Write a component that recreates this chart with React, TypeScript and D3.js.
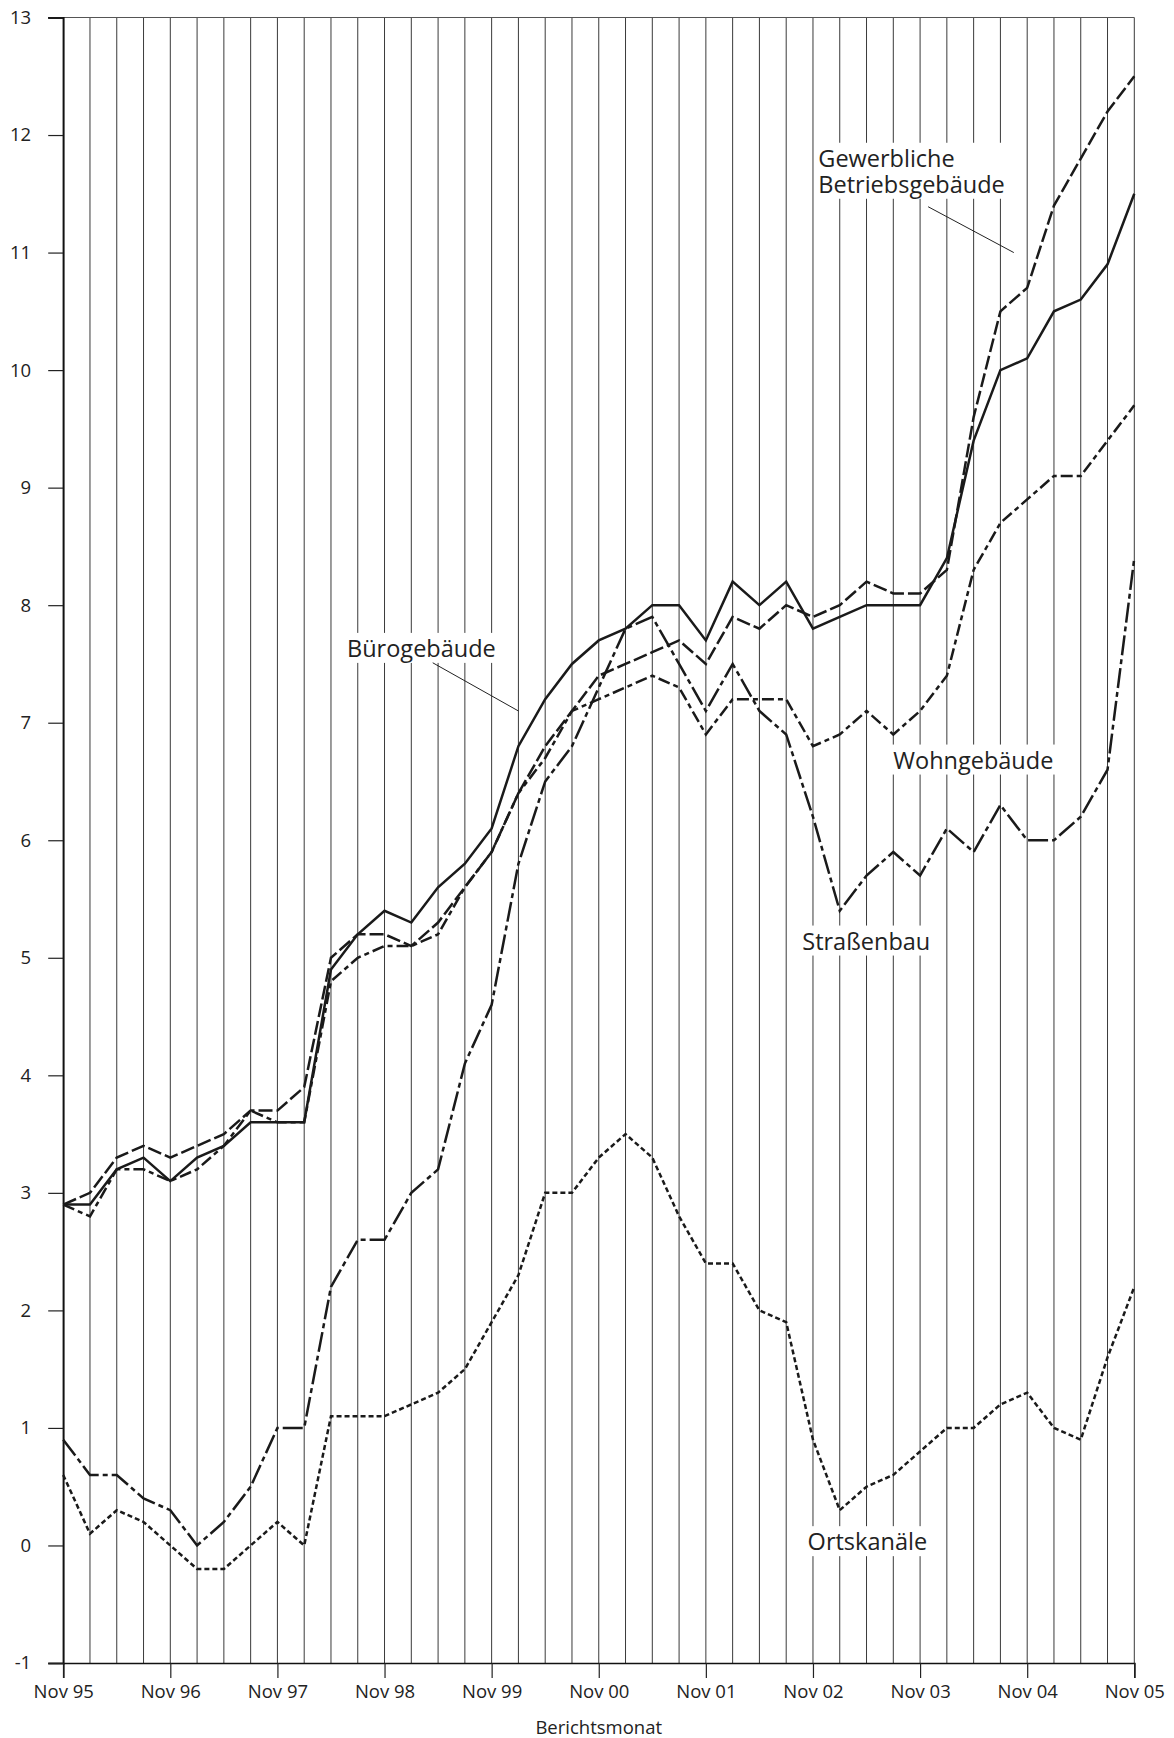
import React, { useRef, useEffect } from "react";
import * as d3 from "d3";

// Quartale Nov 95 .. Nov 05
const quarters = [
  "Nov 95", "Feb 96", "Mai 96", "Aug 96",
  "Nov 96", "Feb 97", "Mai 97", "Aug 97",
  "Nov 97", "Feb 98", "Mai 98", "Aug 98",
  "Nov 98", "Feb 99", "Mai 99", "Aug 99",
  "Nov 99", "Feb 00", "Mai 00", "Aug 00",
  "Nov 00", "Feb 01", "Mai 01", "Aug 01",
  "Nov 01", "Feb 02", "Mai 02", "Aug 02",
  "Nov 02", "Feb 03", "Mai 03", "Aug 03",
  "Nov 03", "Feb 04", "Mai 04", "Aug 04",
  "Nov 04", "Feb 05", "Mai 05", "Aug 05",
  "Nov 05",
];
const xTickLabels = ["Nov 95", "Nov 96", "Nov 97", "Nov 98", "Nov 99", "Nov 00", "Nov 01", "Nov 02", "Nov 03", "Nov 04", "Nov 05"];
const yTicks = [-1, 0, 1, 2, 3, 4, 5, 6, 7, 8, 9, 10, 11, 12, 13];

const buero = [2.9, 2.9, 3.2, 3.3, 3.1, 3.3, 3.4, 3.6, 3.6, 3.6, 4.9, 5.2, 5.4, 5.3, 5.6, 5.8, 6.1, 6.8, 7.2, 7.5, 7.7, 7.8, 8.0, 8.0, 7.7, 8.2, 8.0, 8.2, 7.8, 7.9, 8.0, 8.0, 8.0, 8.4, 9.4, 10.0, 10.1, 10.5, 10.6, 10.9, 11.5];
const gewerbe = [2.9, 3.0, 3.3, 3.4, 3.3, 3.4, 3.5, 3.7, 3.7, 3.9, 5.0, 5.2, 5.2, 5.1, 5.3, 5.6, 5.9, 6.4, 6.8, 7.1, 7.4, 7.5, 7.6, 7.7, 7.5, 7.9, 7.8, 8.0, 7.9, 8.0, 8.2, 8.1, 8.1, 8.3, 9.6, 10.5, 10.7, 11.4, 11.8, 12.2, 12.5];
const wohn = [2.9, 2.8, 3.2, 3.2, 3.1, 3.2, 3.4, 3.7, 3.6, 3.6, 4.8, 5.0, 5.1, 5.1, 5.2, 5.6, 5.9, 6.4, 6.7, 7.1, 7.2, 7.3, 7.4, 7.3, 6.9, 7.2, 7.2, 7.2, 6.8, 6.9, 7.1, 6.9, 7.1, 7.4, 8.3, 8.7, 8.9, 9.1, 9.1, 9.4, 9.7];
const strasse = [0.9, 0.6, 0.6, 0.4, 0.3, 0.0, 0.2, 0.5, 1.0, 1.0, 2.2, 2.6, 2.6, 3.0, 3.2, 4.1, 4.6, 5.8, 6.5, 6.8, 7.3, 7.8, 7.9, 7.5, 7.1, 7.5, 7.1, 6.9, 6.2, 5.4, 5.7, 5.9, 5.7, 6.1, 5.9, 6.3, 6.0, 6.0, 6.2, 6.6, 8.4];
const kanal = [0.6, 0.1, 0.3, 0.2, 0.0, -0.2, -0.2, 0.0, 0.2, 0.0, 1.1, 1.1, 1.1, 1.2, 1.3, 1.5, 1.9, 2.3, 3.0, 3.0, 3.3, 3.5, 3.3, 2.8, 2.4, 2.4, 2.0, 1.9, 0.9, 0.3, 0.5, 0.6, 0.8, 1.0, 1.0, 1.2, 1.3, 1.0, 0.9, 1.6, 2.2];

const seriesList = [
  { name: "Ortskanäle", values: kanal, dash: "5 3" },
  { name: "Straßenbau", values: strasse, dash: "20 4 5 4" },
  { name: "Wohngebäude", values: wohn, dash: "12 4 5 4" },
  { name: "Gewerbliche Betriebsgebäude", values: gewerbe, dash: "14 4" },
  { name: "Bürogebäude", values: buero, dash: null },
];

// Beschriftungen im Diagramm (Quartalsindex, Wert)
const annotations = [
  { lines: ["Gewerbliche", "Betriebsgebäude"], at: [28.2, 11.73], leader: [[32.3, 11.39], [35.5, 11.0]] },
  { lines: ["Bürogebäude"], at: [10.6, 7.56], leader: [[13.8, 7.51], [17.0, 7.1]] },
  { lines: ["Wohngebäude"], at: [31.0, 6.61], leader: null },
  { lines: ["Straßenbau"], at: [27.6, 5.07], leader: null },
  { lines: ["Ortskanäle"], at: [27.8, -0.04], leader: null },
];

const width = 1174;
const height = 1738;
const font = "'Open Sans', 'Noto Sans', sans-serif";

const Chart = () => {
  const svgRef = useRef(null);

  useEffect(() => {
    const svg = d3.select(svgRef.current);
    svg.selectAll("*").remove();

    const x = d3.scaleLinear().domain([0, quarters.length - 1]).range([63.2, 1134.3]);
    const y = d3.scaleLinear().domain([-1, 13]).range([1663, 17.5]);

    // vertical grid, one line per quarter
    svg.append("g")
      .selectAll("line")
      .data(quarters)
      .enter()
      .append("line")
      .attr("x1", (d, i) => x(i))
      .attr("x2", (d, i) => x(i))
      .attr("y1", y(-1))
      .attr("y2", y(13))
      .attr("stroke", "#3a3a3a")
      .attr("stroke-width", 1);

    // top border
    svg.append("line")
      .attr("x1", 48).attr("x2", x(40))
      .attr("y1", y(13)).attr("y2", y(13))
      .attr("stroke", "#555").attr("stroke-width", 1.2);

    // y axis
    const yAxis = svg.append("g")
      .attr("transform", `translate(${x(0)},0)`)
      .call(d3.axisLeft(y).tickValues(yTicks).tickSize(15).tickPadding(17).tickFormat(d => String(d)));
    yAxis.select(".domain").attr("stroke", "#111").attr("stroke-width", 1.8);
    yAxis.selectAll(".tick line").attr("stroke", "#222").attr("stroke-width", 1.2);
    yAxis.selectAll("text")
      .attr("font-family", font).attr("font-size", 18.5).attr("fill", "#222");

    // x axis
    const xAxis = svg.append("g")
      .attr("transform", `translate(0,${y(-1)})`)
      .call(d3.axisBottom(x)
        .tickValues(xTickLabels.map(l => quarters.indexOf(l)))
        .tickSize(15).tickPadding(7)
        .tickFormat(i => quarters[i]));
    xAxis.select(".domain").attr("stroke", "#111").attr("stroke-width", 1.6);
    xAxis.selectAll(".tick line").attr("stroke", "#222").attr("stroke-width", 1.2);
    xAxis.selectAll("text")
      .attr("font-family", font).attr("font-size", 18.5).attr("fill", "#222");

    svg.append("text")
      .attr("x", (x(0) + x(40)) / 2)
      .attr("y", 1734)
      .attr("text-anchor", "middle")
      .attr("font-family", font).attr("font-size", 18.5).attr("fill", "#222")
      .text("Berichtsmonat");

    // labels with white background
    const ann = svg.append("g");
    annotations.forEach(a => {
      const g = ann.append("g");
      const bg = g.append("rect").attr("fill", "white");
      const t = g.append("text")
        .attr("font-family", font).attr("font-size", 23.5).attr("fill", "#222");
      a.lines.forEach((l, k) => {
        t.append("tspan")
          .attr("x", x(a.at[0]))
          .attr("y", y(a.at[1]) + k * 26)
          .text(l);
      });
      const b = t.node().getBBox();
      bg.attr("x", b.x - 3).attr("y", b.y + 1).attr("width", b.width + 6).attr("height", b.height - 2);
      if (a.leader) {
        g.append("line")
          .attr("x1", x(a.leader[0][0])).attr("y1", y(a.leader[0][1]))
          .attr("x2", x(a.leader[1][0])).attr("y2", y(a.leader[1][1]))
          .attr("stroke", "#222").attr("stroke-width", 1);
      }
    });

    // data lines
    const line = d3.line()
      .x((d, i) => x(i))
      .y(d => y(d));

    svg.append("g")
      .selectAll("path")
      .data(seriesList)
      .enter()
      .append("path")
      .attr("d", d => line(d.values))
      .attr("fill", "none")
      .attr("stroke", "#1a1a1a")
      .attr("stroke-width", 2.5)
      .attr("stroke-linejoin", "miter")
      .attr("stroke-dasharray", d => d.dash);
  }, []);

  return <svg ref={svgRef} width={width} height={height} style={{ position: "absolute", left: 0, top: 0, display: "block", background: "white" }}></svg>;
};

export default function App() {
  return <Chart />;
}
